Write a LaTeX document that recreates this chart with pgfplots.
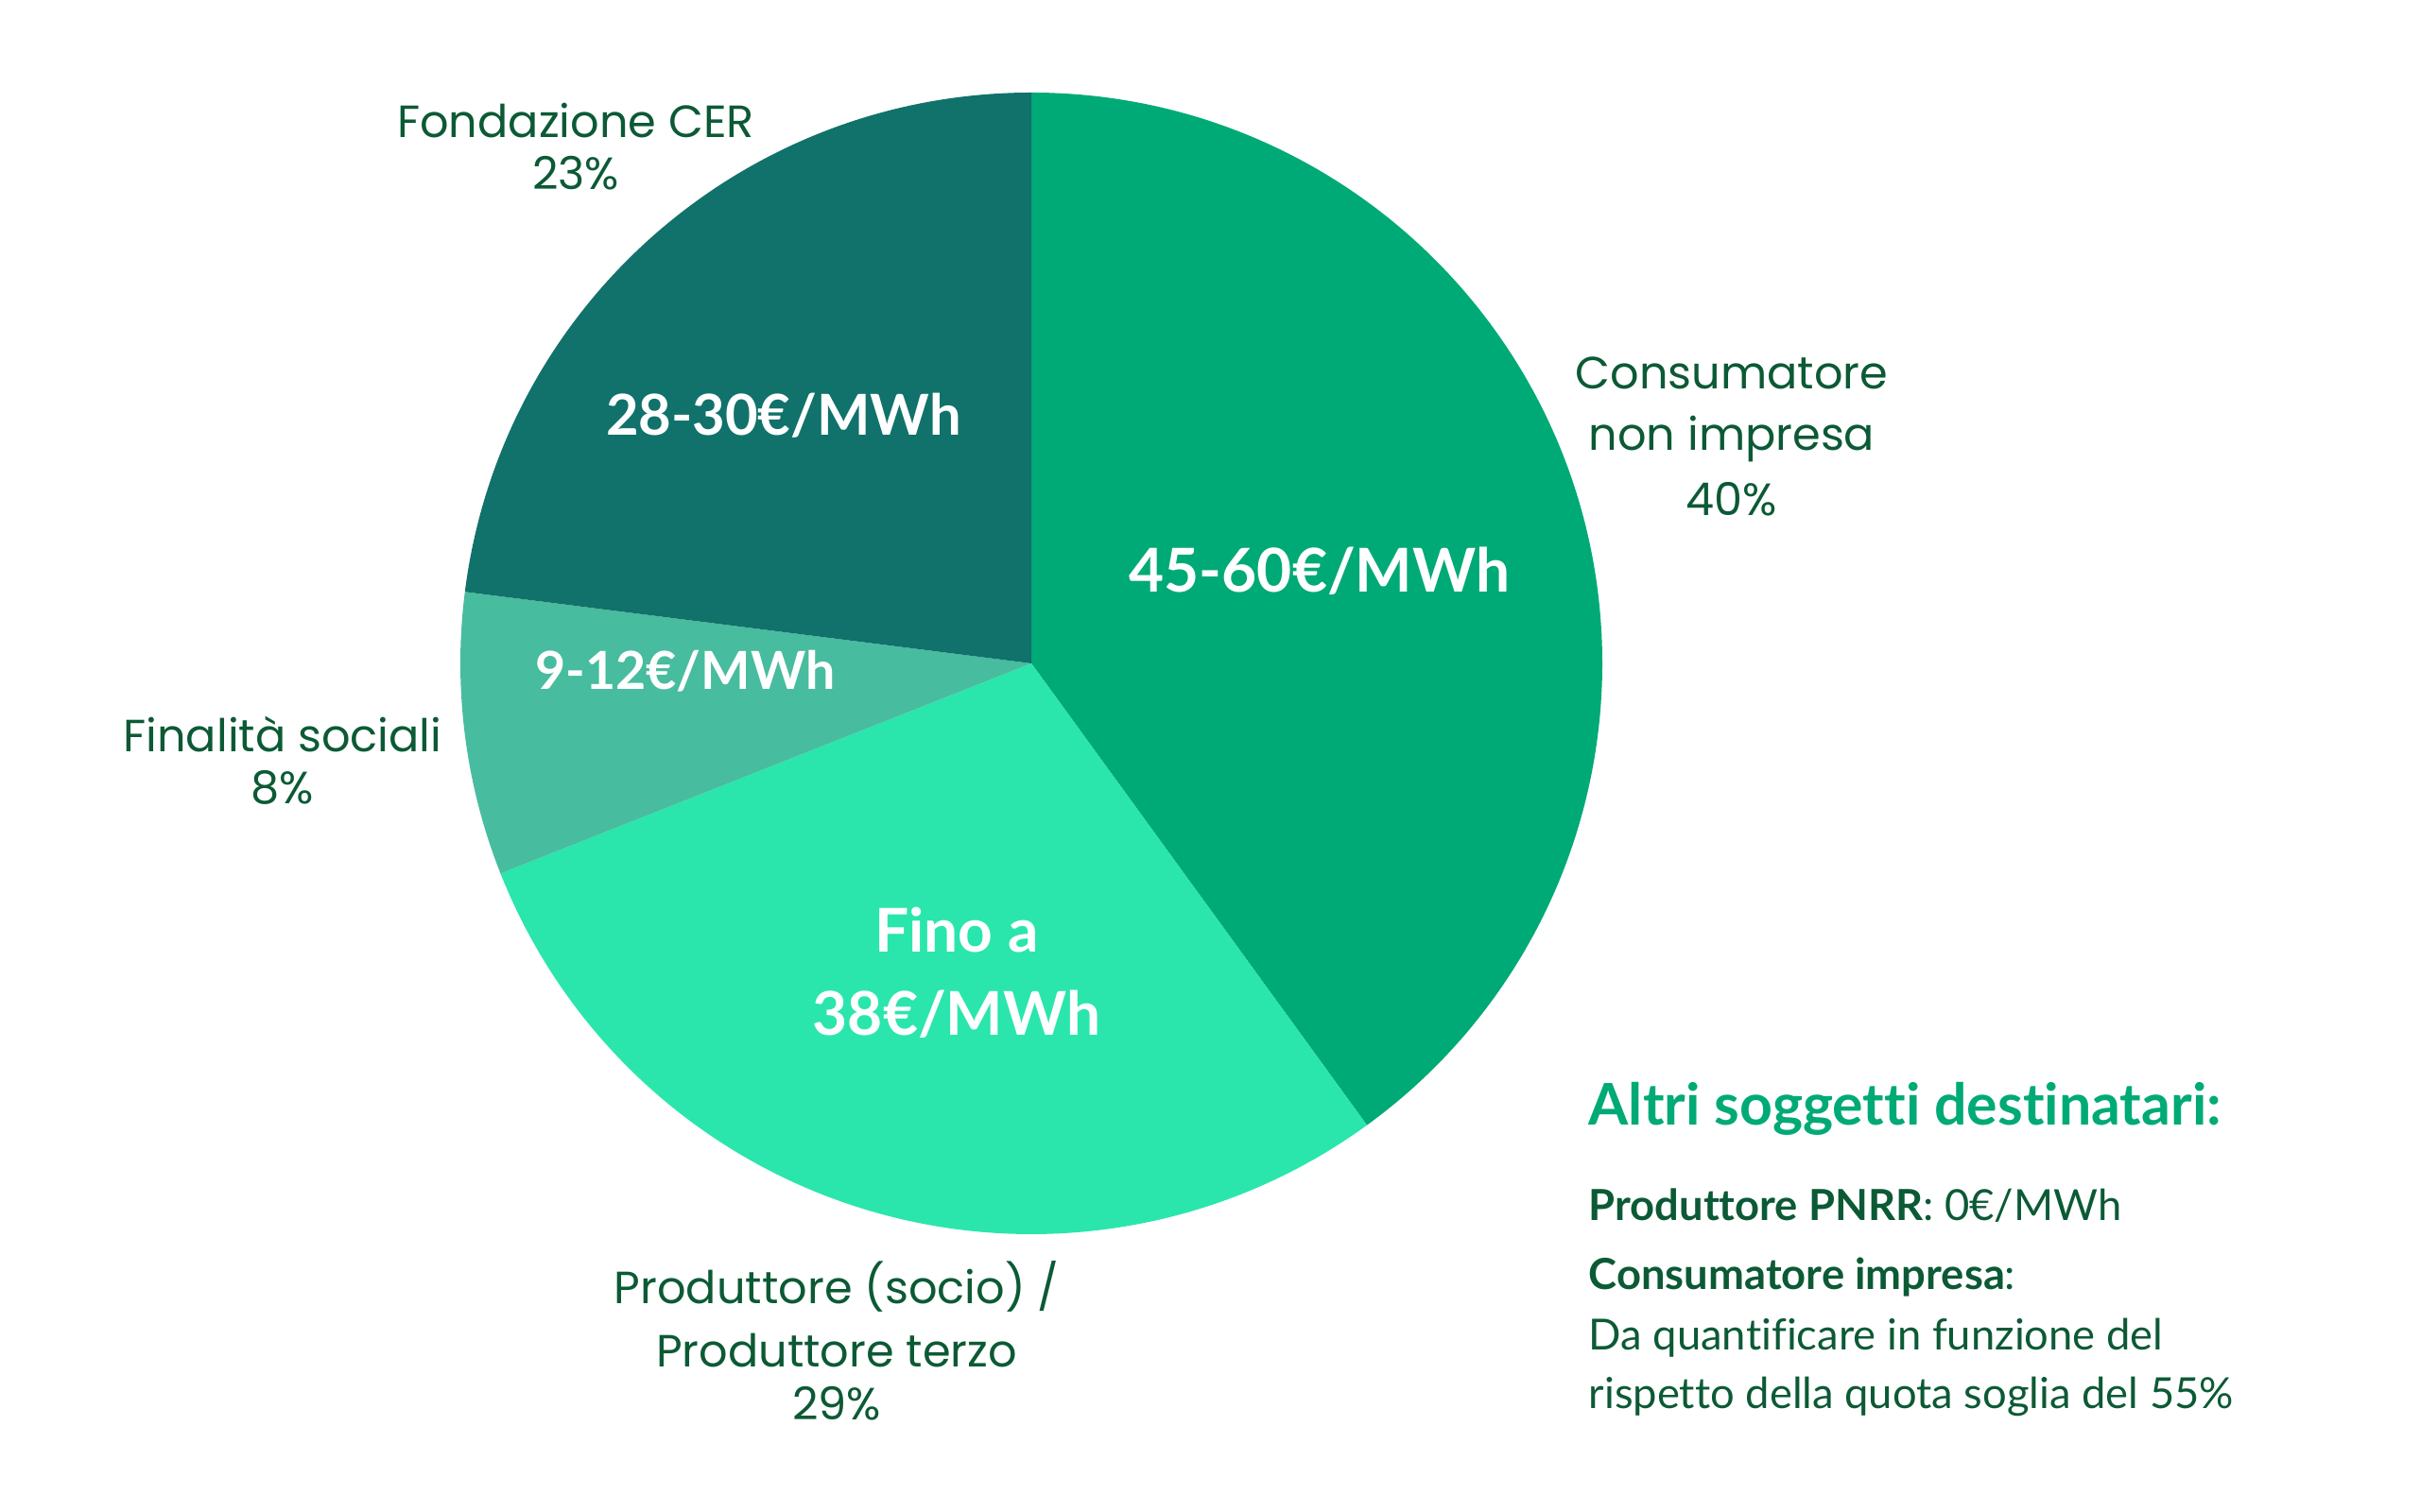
\documentclass[border=0pt]{standalone}
\usepackage{pgfplots}
\pgfplotsset{compat=1.18}
\usepackage{pgfplotstable}
\usepackage{fontspec}
\setmainfont{Lato}[Ligatures=NoCommon]
\newfontfamily\pop{Poppins}
\definecolor{cA}{HTML}{00AA76}
\definecolor{cB}{HTML}{2AE6AC}
\definecolor{cC}{HTML}{48BC9E}
\definecolor{cD}{HTML}{10726B}
\definecolor{txt}{HTML}{0C5A35}
\pgfplotstableread{
label value
Consumatore 40
Produttore 29
Finalita 8
Fondazione 23
}\piedata
\begin{document}
\begin{tikzpicture}
\pgfplotstablegetelem{0}{value}\of\piedata \pgfmathsetmacro\va{\pgfplotsretval}
\pgfplotstablegetelem{1}{value}\of\piedata \pgfmathsetmacro\vb{\pgfplotsretval}
\pgfplotstablegetelem{2}{value}\of\piedata \pgfmathsetmacro\vc{\pgfplotsretval}
\pgfplotstablegetelem{3}{value}\of\piedata \pgfmathsetmacro\vd{\pgfplotsretval}
\pgfmathsetmacro\aA{90}
\pgfmathsetmacro\aB{\aA-3.6*\va}
\pgfmathsetmacro\aC{\aB-3.6*\vb}
\pgfmathsetmacro\aD{\aC-3.6*\vc}
\pgfmathsetmacro\aE{\aD-3.6*\vd}
\def\R{6.04cm}
\begin{axis}[scale only axis, width=25.6cm, height=16cm,
  xmin=0, xmax=2560, ymin=0, ymax=1600, hide axis, clip=false]
\path (axis cs:0,0) rectangle (axis cs:2560,1600);
\fill[cA] (axis cs:1091,898) -- ++(\aA:\R) arc[start angle=\aA, end angle=\aB, radius=\R] -- cycle;
\fill[cB] (axis cs:1091,898) -- ++(\aB:\R) arc[start angle=\aB, end angle=\aC, radius=\R] -- cycle;
\fill[cC] (axis cs:1091,898) -- ++(\aC:\R) arc[start angle=\aC, end angle=\aD, radius=\R] -- cycle;
\fill[cD] (axis cs:1091,898) -- ++(\aD:\R) arc[start angle=\aD, end angle=\aE, radius=\R] -- cycle;
% outer labels
\begin{scope}[every node/.style={anchor=base, text=txt, font=\pop\fontsize{13.6}{16}\selectfont, inner sep=0pt}]
\node at (axis cs:609,1454.7) {Fondazione CER};
\node at (axis cs:609,1399.2) {23\%};
\node at (axis cs:1832,1188.6) {Consumatore};
\node at (axis cs:1832,1123.3) {non impresa};
\node at (axis cs:1832,1054.7) {40\%};
\node at (axis cs:299,804.9) {Finalità sociali};
\node at (axis cs:299,749.4) {8\%};
\node at (axis cs:885,220.4) {Produttore (socio) /};
\node at (axis cs:885,153.4) {Produttore terzo};
\node at (axis cs:885,97.9) {29\%};
\end{scope}
% inner labels
\begin{scope}[every node/.style={anchor=base, text=white, inner sep=0pt}]
\node[font=\bfseries\fontsize{17.0}{20}\selectfont] at (axis cs:829,1139.6) {28-30€/MWh};
\node[font=\bfseries\fontsize{18.2}{22}\selectfont] at (axis cs:1396,973) {45-60€/MWh};
\node[font=\bfseries\fontsize{15.8}{20}\selectfont] at (axis cs:725,870.2) {9-12€/MWh};
\node[font=\bfseries\fontsize{18.2}{22}\selectfont] at (axis cs:1012,592.6) {Fino a};
\node[font=\bfseries\fontsize{18.2}{22}\selectfont] at (axis cs:1012,504.5) {38€/MWh};
\end{scope}
% right text
\begin{scope}[every node/.style={anchor=base west, text=txt, inner sep=0pt, font=\fontsize{12.9}{16}\selectfont}]
\node[text=cA, font=\bfseries\fontsize{17.3}{20}\selectfont] at (axis cs:1680,409.8) {Altri soggetti destinatari:};
\node at (axis cs:1680,308.5) {\textbf{Produttore PNRR}: 0€/MWh};
\node at (axis cs:1680,235.1) {\textbf{Consumatore impresa}:};
\node at (axis cs:1680,171.4) {Da quantificare in funzione del};
\node at (axis cs:1680,109.4) {rispetto della quota soglia del 55\%};
\end{scope}
\end{axis}
\end{tikzpicture}
\end{document}
